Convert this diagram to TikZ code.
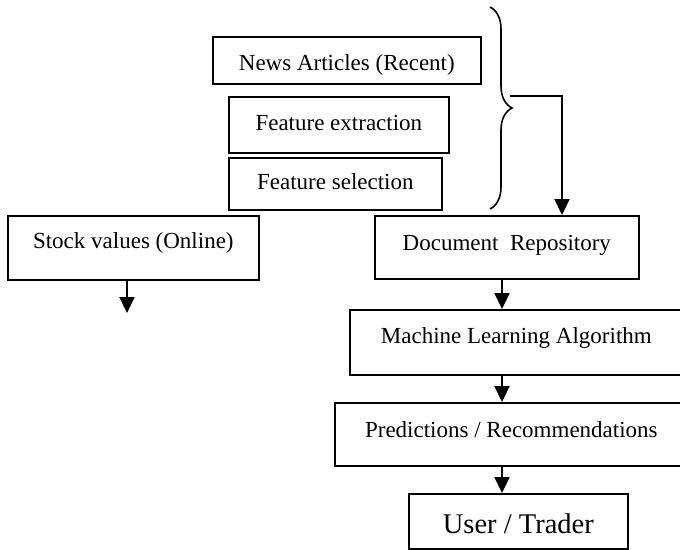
\documentclass[tikz,border=0pt]{standalone}
\usepackage{fontspec}
\setmainfont{Liberation Serif}
\usetikzlibrary{arrows.meta,decorations.pathreplacing}
\begin{document}
\begin{tikzpicture}[x=1pt,y=-1pt,
  box/.style={draw, line width=1.7pt, inner sep=0pt, anchor=north west, align=center, font=\fontsize{23}{27}\selectfont},
  flow/.style={line width=2.2pt, -{Triangle[length=16pt,width=15pt]}},
  bracestyle/.style={line width=1.6pt, decorate, decoration={brace, amplitude=22pt, aspect=0.5}}]
\useasboundingbox (0,0) rectangle (680,549);
\clip (0,0) rectangle (680,549);
\node[box, minimum width=268pt, text height=34pt, text depth=13pt] (news) at (212,36) {News Articles (Recent)};
\node[box, minimum width=220pt, text height=34pt, text depth=22pt] (fext) at (228,96) {Feature extraction};
\node[box, minimum width=213pt, text height=32pt, text depth=20pt] (fsel) at (228,157) {Feature selection};
\node[box, minimum width=251pt, text height=33pt, text depth=31pt] (stock) at (7,215) {Stock values (Online)};
\node[box, minimum width=264pt, text height=35pt, text depth=28pt] (repo) at (374,215) {Document\ \ Repository};
\node[box, minimum width=333pt, text height=34pt, text depth=31pt] (ml) at (349,309) {Machine Learning Algorithm};
\node[box, minimum width=353pt, text height=35pt, text depth=28pt] (pred) at (334,402) {Predictions / Recommendations};
\node[box, minimum width=219pt, text height=40pt, text depth=15pt, font=\fontsize{28.5}{32}\selectfont] (user) at (408,493) {User / Trader};
% brace
\coordinate (btop) at (490,7);
\coordinate (bbot) at (490,209);
\draw[bracestyle] (btop) -- (bbot);
\coordinate (bstart) at (510,96);
\coordinate (stockend) at (127,313);
\draw[flow] (bstart) -| (repo.north -| 562,0);
\draw[flow] (stock.south -| stockend) -- (stockend);
\draw[flow] (repo.south -| 502,0) -- (ml.north -| 502,0);
\draw[flow] (ml.south -| 502,0) -- (pred.north -| 502,0);
\draw[flow] (pred.south -| 502,0) -- (user.north -| 502,0);
\end{tikzpicture}
\end{document}
